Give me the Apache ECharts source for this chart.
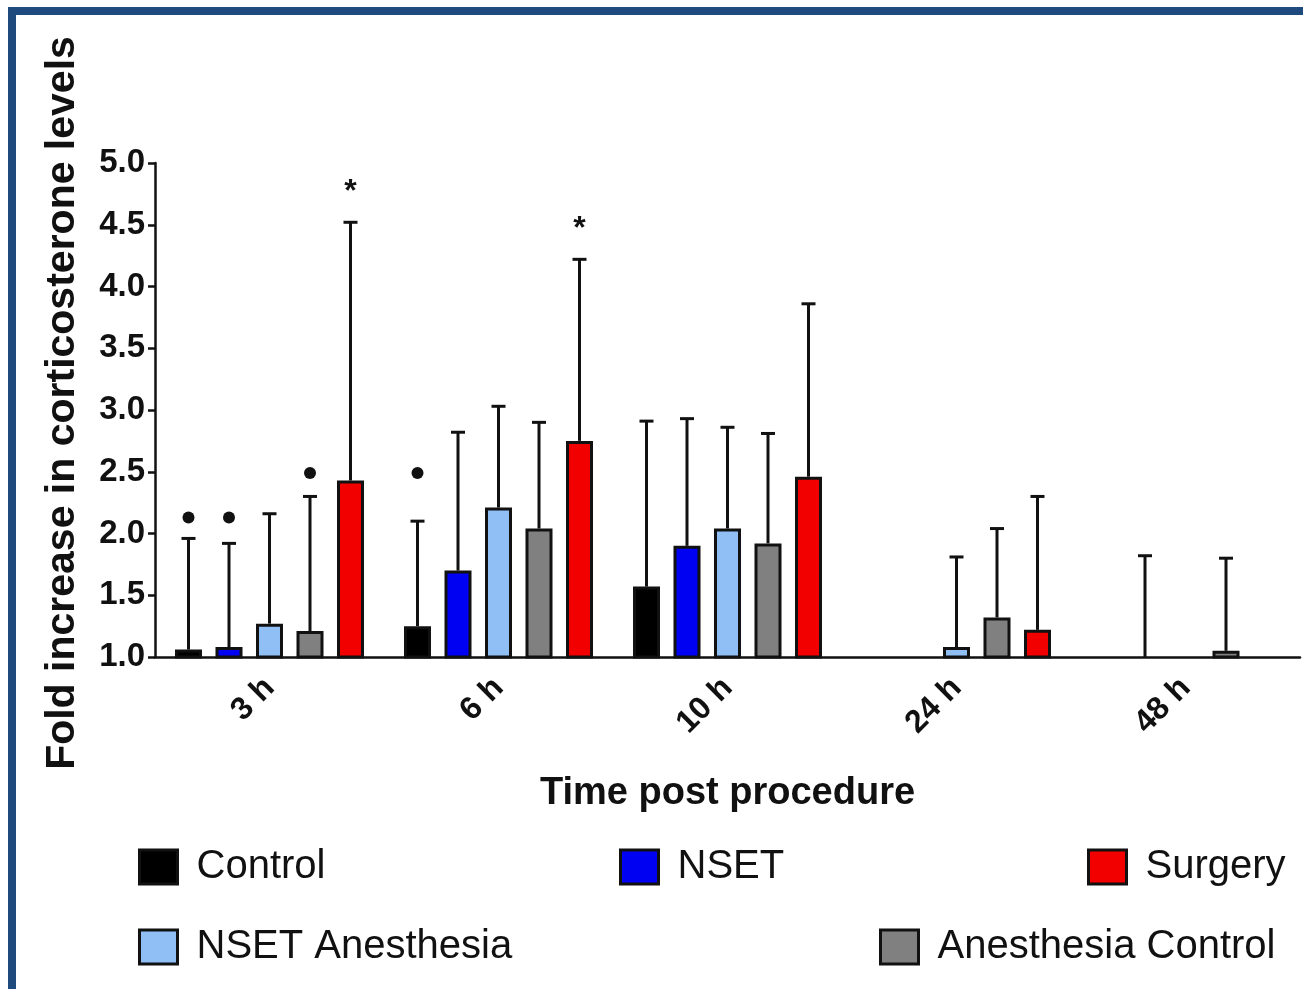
<!DOCTYPE html>
<html>
<head>
<meta charset="utf-8">
<script src="https://cdn.jsdelivr.net/npm/echarts/dist/echarts.min.js"></script>
<style>
  html, body { margin: 0; padding: 0; background: #fff; }
  #chart { width: 1303px; height: 989px; }
</style>
</head>
<body>
<div id="chart"></div>
<script>
// time points on the x axis
const categories = ['3 h', '6 h', '10 h', '24 h', '48 h'];
const seriesNames = ['Control', 'NSET', 'NSET Anesthesia', 'Anesthesia Control', 'Surgery'];
const seriesColors = ['#000000', '#0000f2', '#8fbff5', '#808080', '#f20000'];

// bar means (fold increase) and top of the error bars
const controlMean = [1.06, 1.25, 1.57, 1.0, 1.0];
const controlErr = [1.96, 2.10, 2.91, null, null];
const nsetMean = [1.08, 1.70, 1.90, 1.0, 1.0];
const nsetErr = [1.92, 2.82, 2.93, null, 1.82];
const nsetAnesMean = [1.27, 2.21, 2.04, 1.08, 1.0];
const nsetAnesErr = [2.16, 3.03, 2.86, 1.81, null];
const anesCtrlMean = [1.21, 2.04, 1.92, 1.32, 1.05];
const anesCtrlErr = [2.30, 2.90, 2.81, 2.04, 1.80];
const surgeryMean = [2.43, 2.75, 2.46, 1.22, 1.0];
const surgeryErr = [4.52, 4.22, 3.86, 2.30, null];

// significance marks: [category index, series index, y value]
const dotMarks = [[0, 0, 2.13], [0, 1, 2.13], [0, 3, 2.49], [1, 0, 2.49]];
const starMarks = [[0, 4, 4.84], [1, 4, 4.54]];

const means = [controlMean, nsetMean, nsetAnesMean, anesCtrlMean, surgeryMean];
const errs = [controlErr, nsetErr, nsetAnesErr, anesCtrlErr, surgeryErr];

const FONT = "'Liberation Sans', Arial, sans-serif";
const BAR_W = 27;
const BAR_GAP = 0.5;
const STEP = BAR_W * (1 + BAR_GAP);

// error bar data: [cat, series, mean, top]
const errData = [];
errs.forEach(function (arr, s) {
    arr.forEach(function (e, c) {
        if (e != null) errData.push([c, s, means[s][c], e]);
    });
});

function renderErr(params, api) {
    const s = api.value(1);
    const base = api.coord([api.value(0), api.value(2)]);
    const top = api.coord([api.value(0), api.value(3)]);
    const x = base[0] + (s - 2) * STEP;
    const st = { stroke: '#111', lineWidth: 3 };
    return {
        type: 'group',
        children: [
            { type: 'line', shape: { x1: x, y1: base[1], x2: x, y2: top[1] }, style: st },
            { type: 'line', shape: { x1: x - 7, y1: top[1], x2: x + 7, y2: top[1] }, style: st }
        ]
    };
}

function renderDot(params, api) {
    const p = api.coord([api.value(0), api.value(2)]);
    return {
        type: 'circle',
        shape: { cx: p[0] + (api.value(1) - 2) * STEP, cy: p[1], r: 6 },
        style: { fill: '#111' }
    };
}

function renderStar(params, api) {
    const p = api.coord([api.value(0), api.value(2)]);
    return {
        type: 'text',
        x: p[0] + (api.value(1) - 2) * STEP,
        y: p[1] + 9,
        style: {
            text: '*', fill: '#111', font: 'bold 32px ' + FONT,
            align: 'center', verticalAlign: 'middle'
        }
    };
}

// legend placement, one legend per item like the figure (same order as seriesNames)
const legendPos = [[138, 847], [619, 847], [138, 927], [879, 927], [1087, 847]];

const chart = echarts.init(document.getElementById('chart'));

const barSeries = seriesNames.map(function (name, i) {
    return {
        name: name,
        type: 'bar',
        data: means[i],
        barWidth: BAR_W,
        barGap: (BAR_GAP * 100) + '%',
        itemStyle: { color: seriesColors[i], borderColor: '#111', borderWidth: 3 },
        z: 3
    };
});

const option = {
    backgroundColor: '#fff',
    animation: false,
    textStyle: { fontFamily: FONT },
    grid: { left: 155, right: 3, top: 163, bottom: 332 },
    legend: seriesNames.map(function (name, i) {
        return {
            data: [name],
            left: legendPos[i][0],
            top: legendPos[i][1],
            padding: 0,
            icon: 'rect',
            itemWidth: 38,
            itemHeight: 34,
            selectedMode: false,
            itemStyle: { borderColor: '#111', borderWidth: 3 },
            textStyle: { fontSize: 40, color: '#111', fontFamily: FONT, padding: [0, 0, 0, 14] }
        };
    }),
    xAxis: {
        type: 'category',
        data: categories,
        name: 'Time post procedure',
        nameLocation: 'middle',
        nameGap: 118,
        nameTextStyle: { fontSize: 38, fontWeight: 'bold', color: '#111' },
        axisLine: { lineStyle: { color: '#111', width: 2.5 } },
        axisTick: { alignWithLabel: true, length: 10, lineStyle: { width: 2.5 } },
        axisLabel: { rotate: 45, fontSize: 32, fontWeight: 'bold', color: '#111', margin: 26 }
    },
    yAxis: {
        type: 'value',
        min: 1,
        max: 5,
        interval: 0.5,
        name: 'Fold increase in corticosterone levels',
        nameLocation: 'middle',
        nameGap: 72,
        nameTextStyle: { fontSize: 41, fontWeight: 'bold', color: '#111', padding: [0, 0, 0, 14] },
        splitLine: { show: false },
        axisLine: { show: true, lineStyle: { color: '#111', width: 2.5 } },
        axisTick: { show: true, length: 7, lineStyle: { width: 2.5 } },
        axisLabel: {
            fontSize: 33, fontWeight: 'bold', color: '#111', margin: 10,
            formatter: function (v) { return v.toFixed(1); }
        }
    },
    graphic: [{
        type: 'rect',
        shape: { x: 12, y: 11, width: 1500, height: 1200 },
        style: { fill: 'none', stroke: '#1f4a7e', lineWidth: 8 },
        silent: true
    }],
    series: barSeries.concat([
        { type: 'custom', renderItem: renderErr, data: errData, encode: { x: 0, y: 3 }, z: 2 },
        { type: 'custom', renderItem: renderDot, data: dotMarks, encode: { x: 0, y: 2 }, z: 4 },
        { type: 'custom', renderItem: renderStar, data: starMarks, encode: { x: 0, y: 2 }, z: 4 }
    ])
};

chart.setOption(option);
</script>
</body>
</html>
